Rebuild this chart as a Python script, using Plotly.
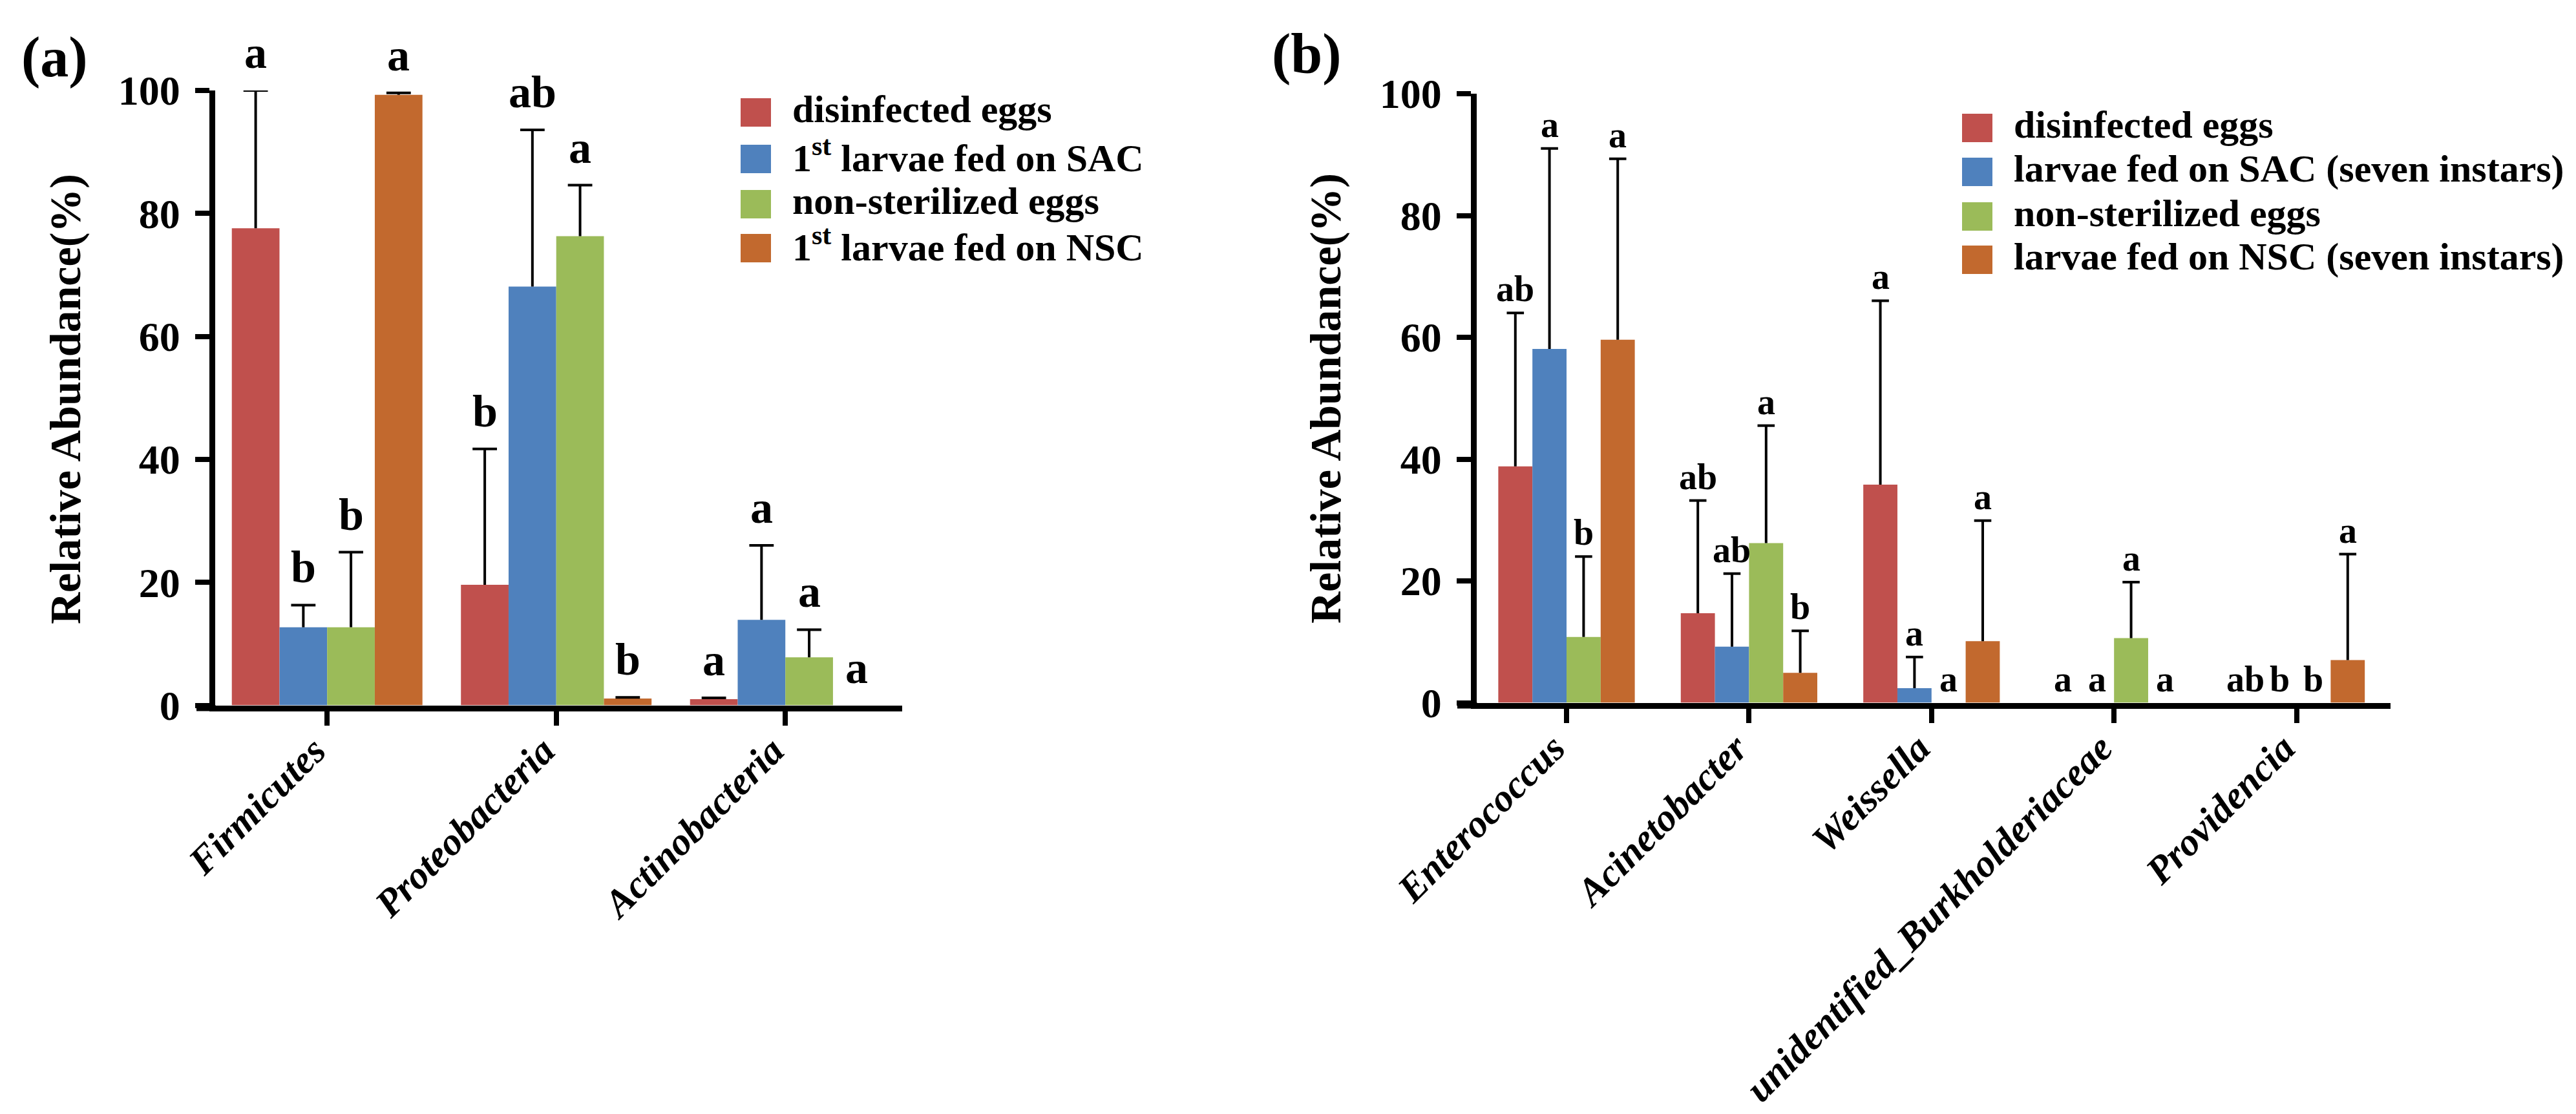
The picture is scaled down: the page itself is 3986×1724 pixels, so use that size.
import plotly.graph_objects as go

W, H = 3986, 1724

# ---------------- data ----------------
# panel (a): phylum level
a_categories = ["Firmicutes", "Proteobacteria", "Actinobacteria"]
a_series = ["disinfected eggs", "1<sup>st</sup> larvae fed on SAC",
            "non-sterilized eggs", "1<sup>st</sup> larvae fed on NSC"]
a_disinfected = [77.6, 19.6, 1.0]
a_sac = [12.7, 68.1, 13.9]
a_nonsterile = [12.7, 76.3, 7.8]
a_nsc = [99.3, 1.1, 0.0]
a_disinfected_err = [22.4, 22.1, 0.2]
a_sac_err = [3.6, 25.5, 12.1]
a_nonsterile_err = [12.2, 8.3, 4.5]
a_nsc_err = [0.3, 0.2, 0.0]
a_disinfected_sig = ["a", "b", "a"]
a_sac_sig = ["b", "ab", "a"]
a_nonsterile_sig = ["b", "a", "a"]
a_nsc_sig = ["a", "b", "a"]

# panel (b): genus level
b_categories = ["Enterococcus", "Acinetobacter", "Weissella",
                "unidentified_Burkholderiaceae", "Providencia"]
b_series = ["disinfected eggs", "larvae fed on SAC (seven instars)",
            "non-sterilized eggs", "larvae fed on NSC (seven instars)"]
b_disinfected = [38.8, 14.7, 35.8, 0.0, 0.0]
b_sac = [58.1, 9.2, 2.4, 0.0, 0.0]
b_nonsterile = [10.8, 26.2, 0.0, 10.6, 0.0]
b_nsc = [59.6, 4.9, 10.1, 0.0, 7.0]
b_disinfected_err = [25.2, 18.5, 30.2, 0.0, 0.0]
b_sac_err = [32.9, 12.0, 5.1, 0.0, 0.0]
b_nonsterile_err = [13.2, 19.3, 0.0, 9.2, 0.0]
b_nsc_err = [29.7, 6.9, 19.8, 0.0, 17.4]
b_disinfected_sig = ["ab", "ab", "a", "a", "ab"]
b_sac_sig = ["a", "ab", "a", "a", "b"]
b_nonsterile_sig = ["b", "a", "a", "a", "b"]
b_nsc_sig = ["a", "b", "a", "a", "a"]

y_ticks = [0, 20, 40, 60, 80, 100]
colors = ["#C0504D", "#4F81BD", "#9BBB59", "#C2692E"]

FONT = "Liberation Serif, Times New Roman, serif"


def px(x):
    return x / W


def py(y):
    return 1 - y / H


fig = go.Figure()
annotations = []
shapes = []

panels = [
    dict(cats=a_categories, names=a_series,
         vals=[a_disinfected, a_sac, a_nonsterile, a_nsc],
         errs=[a_disinfected_err, a_sac_err, a_nonsterile_err, a_nsc_err],
         sigs=[a_disinfected_sig, a_sac_sig, a_nonsterile_sig, a_nsc_sig],
         xa="x", ya="y", bw=0.208, sig_size=70, sig_shift=18,
         cap=27, ethick=4,
         leg_x=1138, leg_rows=[166, 238, 308, 376]),
    dict(cats=b_categories, names=b_series,
         vals=[b_disinfected, b_sac, b_nonsterile, b_nsc],
         errs=[b_disinfected_err, b_sac_err, b_nonsterile_err, b_nsc_err],
         sigs=[b_disinfected_sig, b_sac_sig, b_nonsterile_sig, b_nsc_sig],
         xa="x2", ya="y2", bw=0.187, sig_size=56, sig_shift=4,
         cap=19, ethick=4,
         leg_x=3028, leg_rows=[190, 258, 327, 394]),
]

for p in panels:
    bw = p["bw"]
    idx = list(range(len(p["cats"])))
    for i in range(4):
        vals = p["vals"][i]
        errs = p["errs"][i]
        off = -2 * bw + i * bw
        fig.add_trace(go.Bar(
            x=idx, y=vals, name=p["names"][i],
            xaxis=p["xa"], yaxis=p["ya"],
            width=bw, offset=off,
            marker=dict(color=colors[i], line=dict(width=0)),
            showlegend=False,
        ))
        # upper-only error bars: whisker + cap
        cx = [j + off + bw / 2 for j in idx]
        wx, wy, kx, ky = [], [], [], []
        for c, v, e in zip(cx, vals, errs):
            if e > 0:
                wx += [c, c, None]
                wy += [v, v + e, None]
                kx.append(c)
                ky.append(v + e)
        fig.add_trace(go.Scatter(
            x=wx, y=wy, mode="lines", xaxis=p["xa"], yaxis=p["ya"],
            line=dict(color="black", width=p["ethick"]),
            showlegend=False, hoverinfo="skip"))
        fig.add_trace(go.Scatter(
            x=kx, y=ky, mode="markers", xaxis=p["xa"], yaxis=p["ya"],
            marker=dict(symbol="line-ew", size=p["cap"],
                        line=dict(color="black", width=p["ethick"])),
            showlegend=False, hoverinfo="skip"))
        for c, v, e, s in zip(cx, vals, errs, p["sigs"][i]):
            annotations.append(dict(
                x=c, y=v + e, xref=p["xa"], yref=p["ya"],
                text=s, showarrow=False, xanchor="center", yanchor="bottom",
                yshift=p["sig_shift"],
                font=dict(family=FONT, size=p["sig_size"], color="black",
                          weight="bold")))
    # manual legend
    for i, yc in enumerate(p["leg_rows"]):
        shapes.append(dict(type="rect", xref="paper", yref="paper",
                           x0=px(p["leg_x"]), x1=px(p["leg_x"] + 47),
                           y0=py(yc + 22), y1=py(yc - 22),
                           fillcolor=colors[i], line=dict(width=0)))
        annotations.append(dict(
            x=px(p["leg_x"] + 78), y=py(yc - 5), xref="paper", yref="paper",
            text=p["names"][i], showarrow=False, xanchor="left",
            yanchor="middle",
            font=dict(family=FONT, size=60, color="black", weight="bold")))

# x-axis line stubs crossing past the y-axis (GraphPad style)
for x0, x1, y in [(296, 326, 1088), (2247, 2278, 1084)]:
    shapes.append(dict(type="line", xref="paper", yref="paper",
                       x0=px(x0), x1=px(x1), y0=py(y), y1=py(y),
                       line=dict(color="black", width=9)))

axis_common = dict(showline=True, linewidth=9, linecolor="black",
                   ticks="outside", ticklen=22, tickwidth=8, tickcolor="black",
                   showgrid=False, zeroline=False, automargin=False)

xfont = dict(family=FONT, size=60, color="black", weight="bold",
             style="italic")
yfont = dict(family=FONT, size=64, color="black", weight="bold")
xlab = dict(tickangle=-45, tickfont=xfont, ticklabelstandoff=-20,
            ticklabelshift=-20)

fig.update_layout(
    width=W, height=H,
    margin=dict(l=0, r=0, t=0, b=0, autoexpand=False),
    paper_bgcolor="white", plot_bgcolor="white",
    barmode="overlay",
    showlegend=False,
    xaxis=dict(domain=[px(324.5), px(1388)], range=[-0.49, 2.51],
               tickvals=list(range(len(a_categories))),
               ticktext=a_categories, anchor="y", **xlab, **axis_common),
    yaxis=dict(domain=[py(1083.5), py(132)], range=[0, 100],
               tickvals=y_ticks, tickfont=yfont, ticklabelstandoff=10,
               anchor="x", **axis_common),
    xaxis2=dict(domain=[px(2276.5), px(3691)], range=[-0.494, 4.515],
                tickvals=list(range(len(b_categories))),
                ticktext=b_categories, anchor="y2", **xlab, **axis_common),
    yaxis2=dict(domain=[py(1079.5), py(137)], range=[0, 100],
                tickvals=y_ticks, tickfont=yfont, ticklabelstandoff=10,
                anchor="x2", **axis_common),
)

# axis titles and panel labels
for x, y in [(93, 610), (2043, 609)]:
    annotations.append(dict(
        x=px(x), y=py(y), xref="paper", yref="paper",
        text="Relative Abundance(%)", textangle=-90, showarrow=False,
        xanchor="center", yanchor="middle",
        font=dict(family=FONT, size=68, color="black", weight="bold")))
for t, x, y in [("(a)", 76, 80), ("(b)", 2014, 76)]:
    annotations.append(dict(
        x=px(x), y=py(y), xref="paper", yref="paper", text=t,
        showarrow=False, xanchor="center", yanchor="middle",
        font=dict(family=FONT, size=88, color="black", weight="bold")))

fig.update_layout(annotations=annotations, shapes=shapes)
fig.write_html("out.html")
